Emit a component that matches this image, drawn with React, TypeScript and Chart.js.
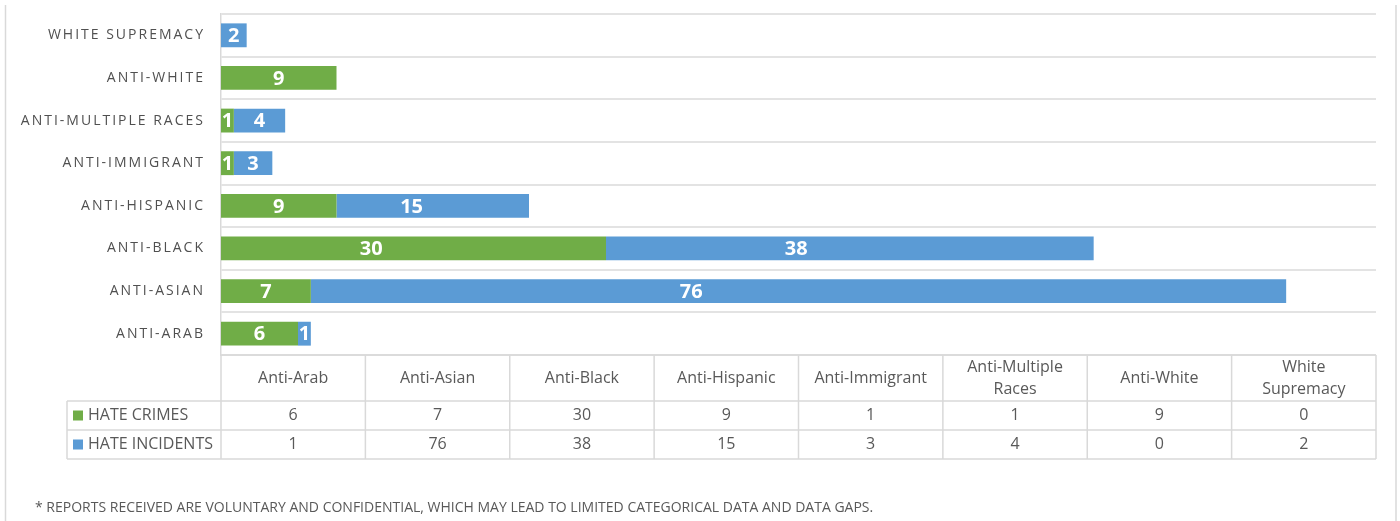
import React, { useEffect, useRef } from "react";
import { Chart, registerables } from "chart.js";

Chart.register(...registerables);

const categories = [
  "Anti-Arab",
  "Anti-Asian",
  "Anti-Black",
  "Anti-Hispanic",
  "Anti-Immigrant",
  "Anti-Multiple Races",
  "Anti-White",
  "White Supremacy",
];
const headerLabels = [
  ["Anti-Arab"],
  ["Anti-Asian"],
  ["Anti-Black"],
  ["Anti-Hispanic"],
  ["Anti-Immigrant"],
  ["Anti-Multiple", "Races"],
  ["Anti-White"],
  ["White", "Supremacy"],
];
const hateCrimes = [6, 7, 30, 9, 1, 1, 9, 0];
const hateIncidents = [1, 76, 38, 15, 3, 4, 0, 2];
const seriesNames = ["HATE CRIMES", "HATE INCIDENTS"];
const xMax = 90;
const footnote =
  "* REPORTS RECEIVED ARE VOLUNTARY AND CONFIDENTIAL, WHICH MAY LEAD TO LIMITED CATEGORICAL DATA AND DATA GAPS.";

const GREEN = "#70ad47";
const BLUE = "#5b9bd5";
const TEXT = "#595959";
const LINE = "#d9d9d9";
const FONT = "'Open Sans', 'DejaVu Sans', sans-serif";

const overlayPlugin = {
  id: "overlay",
  afterDatasetsDraw(chart: any) {
    const ctx = chart.ctx;
    ctx.save();
    ctx.fillStyle = "#ffffff";
    ctx.font = `bold 20px ${FONT}`;
    ctx.textAlign = "center";
    ctx.textBaseline = "middle";
    chart.data.datasets.forEach((ds: any, di: number) => {
      const meta = chart.getDatasetMeta(di);
      meta.data.forEach((el: any, i: number) => {
        const v = ds.data[i];
        if (!v) return;
        const x0 = Math.min(el.base, el.x);
        const w = Math.abs(el.x - el.base);
        const f = w > 150 ? 0.39 : 0.5;
        ctx.fillText(String(v), x0 + w * f, el.y + 1);
      });
    });
    ctx.restore();
  },
  afterDraw(chart: any) {
    const ctx = chart.ctx;
    const area = chart.chartArea;
    const yScale = chart.scales.y;
    ctx.save();

    // frame
    ctx.strokeStyle = LINE;
    ctx.lineWidth = 1.5;
    ctx.beginPath();
    ctx.moveTo(5.5, 5);
    ctx.lineTo(5.5, chart.height);
    ctx.moveTo(1396, 5);
    ctx.lineTo(1396, chart.height);
    ctx.stroke();

    // category labels
    ctx.fillStyle = "#505050";
    ctx.font = `14px ${FONT}`;
    (ctx as any).letterSpacing = "2px";
    ctx.textAlign = "right";
    ctx.textBaseline = "middle";
    categories.forEach((c, i) => {
      const y = yScale.getPixelForValue(i);
      ctx.fillText(c.toUpperCase(), area.left - 16, y);
    });
    (ctx as any).letterSpacing = "0px";

    // data table
    const left = area.left;
    const right = area.right;
    const colW = (right - left) / categories.length;
    const top = area.bottom;
    const headBottom = top + 46;
    const r1 = headBottom + 29;
    const r2 = r1 + 29;
    const legendLeft = 67;

    ctx.strokeStyle = LINE;
    ctx.lineWidth = 1.5;
    ctx.beginPath();
    ctx.moveTo(left, top);
    ctx.lineTo(right, top);
    [headBottom, r1, r2].forEach((y) => {
      ctx.moveTo(legendLeft, y);
      ctx.lineTo(right, y);
    });
    for (let i = 0; i <= categories.length; i++) {
      const x = left + colW * i;
      ctx.moveTo(x, top);
      ctx.lineTo(x, r2);
    }
    ctx.moveTo(legendLeft, headBottom);
    ctx.lineTo(legendLeft, r2);
    ctx.stroke();

    ctx.fillStyle = TEXT;
    ctx.font = `16px ${FONT}`;
    ctx.textAlign = "center";
    ctx.textBaseline = "middle";
    headerLabels.forEach((lines, i) => {
      const cx = left + colW * (i + 0.5);
      const cy = (top + headBottom) / 2;
      const lh = 22;
      lines.forEach((ln, j) => {
        ctx.fillText(ln, cx, cy + (j - (lines.length - 1) / 2) * lh);
      });
    });
    const rows = [hateCrimes, hateIncidents];
    const rowTops = [headBottom, r1];
    rows.forEach((vals, ri) => {
      const cy = rowTops[ri] + 14.5;
      vals.forEach((v, i) => {
        ctx.fillText(String(v), left + colW * (i + 0.5), cy);
      });
      ctx.fillStyle = ri === 0 ? GREEN : BLUE;
      ctx.fillRect(legendLeft + 6, cy - 5, 10, 10);
      ctx.fillStyle = TEXT;
      ctx.textAlign = "left";
      ctx.fillText(seriesNames[ri], legendLeft + 21, cy);
      ctx.textAlign = "center";
    });

    // footnote
    ctx.textAlign = "left";
    ctx.font = `14px ${FONT}`;
    ctx.fillText(footnote, 35, 508);
    ctx.restore();
  },
};

export default function App() {
  const ref = useRef<HTMLCanvasElement>(null);
  useEffect(() => {
    document.body.style.margin = "0";
    const chart = new Chart(ref.current as HTMLCanvasElement, {
      type: "bar",
      data: {
        labels: categories,
        datasets: [
          { label: seriesNames[0], data: hateCrimes, backgroundColor: GREEN },
          { label: seriesNames[1], data: hateIncidents, backgroundColor: BLUE },
        ],
      },
      options: {
        indexAxis: "y",
        animation: false,
        responsive: false,
        devicePixelRatio: 1,
        layout: { padding: { top: 14, bottom: 166, left: 0, right: 24 } },
        datasets: { bar: { categoryPercentage: 0.56, barPercentage: 1 } },
        plugins: { legend: { display: false }, tooltip: { enabled: false } },
        scales: {
          x: { display: false, stacked: true, min: 0, max: xMax },
          y: {
            stacked: true,
            reverse: true,
            ticks: { display: false },
            grid: { color: "#e3e3e3", lineWidth: 2, offset: true, drawTicks: false },
            border: { display: true, color: LINE, width: 1.5 },
            afterFit: (s: any) => {
              s.width = 221;
            },
          },
        },
      } as any,
      plugins: [overlayPlugin],
    });
    return () => chart.destroy();
  }, []);
  return (
    <div style={{ width: 1400, height: 521 }}>
      <canvas ref={ref} width={1400} height={521} />
    </div>
  );
}
